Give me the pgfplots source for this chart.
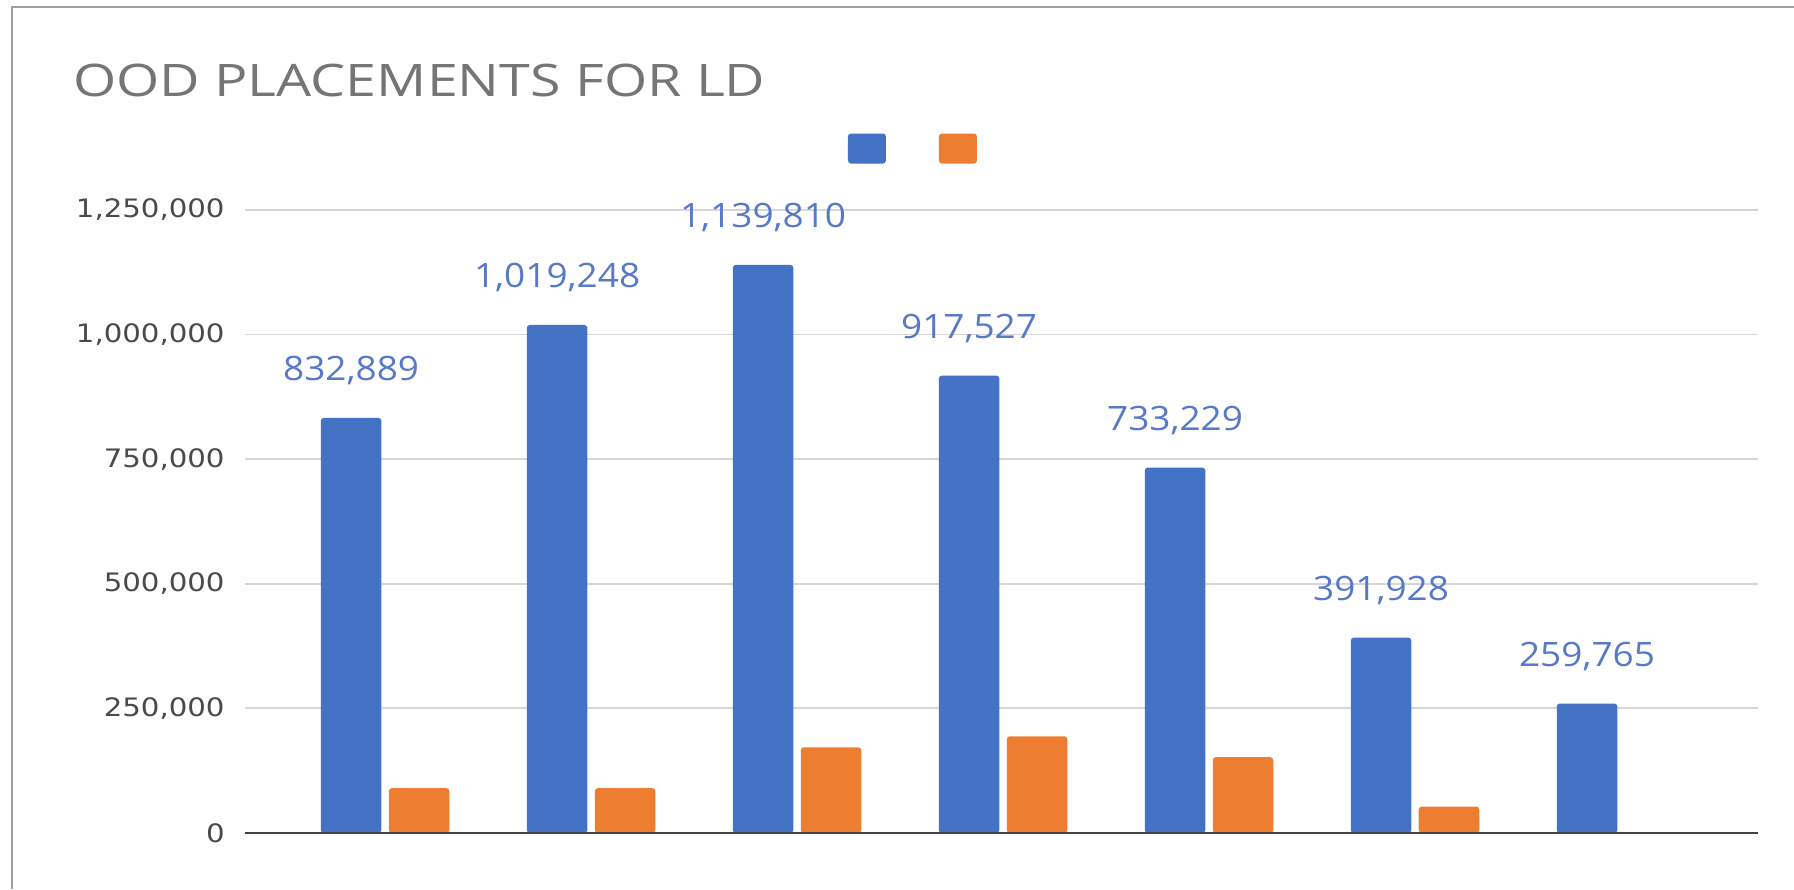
\documentclass[border=0pt]{standalone}
\usepackage{pgfplots}
\pgfplotsset{compat=1.18}
\usepackage{fontspec}
\setmainfont{Open Sans}
\newfontfamily\titlefont{Open Sans}[FakeStretch=1.24]
\newfontfamily\tickfont{DejaVu Sans}[FakeStretch=1.15]
\newfontfamily\labelfont{Open Sans}[FakeStretch=1.1]
\definecolor{barblue}{HTML}{4472C4}
\definecolor{barorange}{HTML}{ED7D31}
\definecolor{titlegray}{HTML}{757575}
\definecolor{tickgray}{HTML}{4A4A4A}
\definecolor{lblblue}{HTML}{5878C8}
\definecolor{gridgray}{HTML}{D6D6D6}
\definecolor{framegray}{HTML}{A0A0A0}
\definecolor{zerogray}{HTML}{404040}
\begin{document}
\begin{tikzpicture}
\useasboundingbox (0,0) rectangle (897pt,444.5pt);
\fill[white] (0,0) rectangle (897pt,444.5pt);
\draw[framegray, line width=1pt] (6pt,0) -- (6pt,441pt) -- (897pt,441pt);
\node[anchor=base west, inner sep=0pt, text=titlegray, font=\titlefont\fontsize{22.4}{26}\selectfont] at (36.35pt,396pt) {OOD PLACEMENTS FOR LD};
\begin{axis}[
 at={(122.5pt,28pt)}, anchor=south west,
 scale only axis, width=756.5pt, height=311.5pt,
 xmin=-0.68, xmax=6.665, ymin=0, ymax=1250000,
 ytick={0,250000,...,1250000},
 xtick=\empty,
 scaled y ticks=false,
 axis line style={draw=none},
 major tick length=0pt,
 ymajorgrids, grid style={gridgray, line width=0.9pt},
 yticklabel style={font=\tickfont\fontsize{12.7}{14}\selectfont, text=tickgray, anchor=east, inner sep=0pt, xshift=-10pt, /pgf/number format/.cd, fixed, 1000 sep={,}, assume math mode=true},
 clip=false,
 legend columns=2,
 legend style={at={(0.4418,1.0987)}, anchor=center, draw=none, fill=none, inner sep=0pt, column sep=0pt, nodes={inner sep=0pt}, /tikz/every even column/.append style={column sep=25.5pt}},
 legend image code/.code={\fill[#1, rounded corners=1.5pt] (0pt,-7.5pt) rectangle (19pt,7.5pt);},
]
\addplot[ybar, bar width=0.294, bar shift=-0.165, fill=barblue, draw=none, rounded corners=1.5pt,
  nodes near coords, point meta=explicit symbolic,
  nodes near coords style={font=\labelfont\fontsize{16.8}{19}\selectfont, text=lblblue, anchor=base, inner sep=0pt, yshift=18.5pt, xshift=-17pt}]
  coordinates {(0,832889)[832,889] (1,1019248)[1,019,248] (2,1139810)[1,139,810] (3,917527)[917,527] (4,733229)[733,229] (5,391928)[391,928] (6,259765)[259,765]};
\addlegendentry{}
\addplot[ybar, bar width=0.294, bar shift=0.165, fill=barorange, draw=none, rounded corners=1.5pt]
  coordinates {(0,90000) (1,90000) (2,172000) (3,194000) (4,152000) (5,53000)};
\addlegendentry{}
\draw[zerogray, line width=1pt] (axis cs:-0.68,0) -- (axis cs:6.665,0);
\end{axis}
\end{tikzpicture}
\end{document}
